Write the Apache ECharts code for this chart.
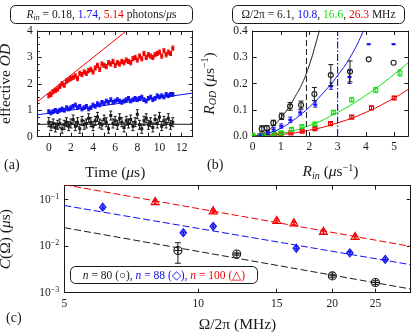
<!DOCTYPE html>
<html>
<head>
<meta charset="utf-8">
<script src="https://cdn.jsdelivr.net/npm/echarts@6/dist/echarts.min.js"></script>
<style>
  html, body { margin: 0; padding: 0; background: #fff; }
  #chart { width: 415px; height: 333px; }
</style>
</head>
<body>
<div id="chart"></div>
<script>
// ---- (a) effective OD vs time ----
const timeA = [0, 0.2, 0.4, 0.6, 0.8, 1.0, 1.2, 1.4, 1.6, 1.8, 2.0, 2.2, 2.4, 2.6, 2.8, 3.0, 3.2, 3.4, 3.6, 3.8,
  4.0, 4.2, 4.4, 4.6, 4.8, 5.0, 5.2, 5.4, 5.6, 5.8, 6.0, 6.2, 6.4, 6.6, 6.8, 7.0, 7.2, 7.4, 7.6, 7.8,
  8.0, 8.2, 8.4, 8.6, 8.8, 9.0, 9.2, 9.4, 9.6, 9.8, 10.0, 10.2, 10.4, 10.6, 10.8, 11.0, 11.2]
const odRed = [1.55, 1.6, 1.7, 1.75, 1.8, 1.9, 2.0, 1.95, 2.1, 2.15, 2.2, 2.25, 2.3, 2.2, 2.4, 2.35,
  2.45, 2.4, 2.5, 2.55, 2.45, 2.6, 2.7, 2.55, 2.75, 2.7, 2.65, 2.8, 2.75, 2.85, 2.7, 2.8, 2.75, 2.85, 2.8, 2.9,
  2.85, 2.8, 2.95, 3.0, 2.9, 3.05, 2.95, 3.15, 3.0, 3.1, 3.05, 3.0, 3.1, 3.15, 3.2, 3.05, 3.25, 3.1, 3.2, 3.15, 3.35]
const odBlue = [0.95, 0.9, 0.95, 1.0, 0.95, 1.0, 1.05, 1.0, 1.1, 1.05, 1.1, 1.15, 1.2, 1.1, 1.15, 1.05,
  1.1, 1.15, 1.05, 1.1, 1.2, 1.15, 1.25, 1.2, 1.3, 1.25, 1.35, 1.3, 1.4, 1.3, 1.35, 1.4, 1.35, 1.3, 1.35, 1.4,
  1.45, 1.35, 1.4, 1.45, 1.4, 1.45, 1.5, 1.4, 1.35, 1.45, 1.5, 1.4, 1.45, 1.55, 1.5, 1.55, 1.5, 1.6, 1.55, 1.6, 1.6]
const odBlack = [0.55, 0.4, 0.5, 0.35, 0.45, 0.5, 0.3, 0.45, 0.55, 0.4, 0.5, 0.65, 0.4, 0.55, 0.3, 0.6,
  0.45, 0.5, 0.7, 0.55, 0.4, 0.6, 0.75, 0.5, 0.45, 0.65, 0.55, 0.3, 0.8, 0.5, 0.6, 0.45, 0.7, 0.55, 0.35, 0.6,
  0.5, 0.65, 0.4, 0.55, 0.85, 0.45, 0.3, 0.6, 0.7, 0.45, 0.55, 0.35, 0.65, 0.5, 0.75, 0.4, 0.6, 0.5, 0.7, 0.45, 0.55]
const errA = { red: 0.08, blue: 0.07, black: 0.17 }
const fitRedA = [[-1, 1.33], [7.0, 4.0]]
const fitBlueA = [[-1, 0.83], [13, 1.65]]
const fitBlackA = [[-1, 0.47], [13, 0.47]]

// ---- (b) R_OD vs R_in ----
const rinBlack = [0.32, 0.5, 0.73, 1.02, 1.32, 1.71, 2.18, 2.76, 3.44, 4.1, 4.98]
const rodBlack = [0.027, 0.03, 0.05, 0.075, 0.113, 0.118, 0.16, 0.232, 0.246, 0.292, 0.279]
const errBlack = [0.012, 0.01, 0.01, 0.012, 0.015, 0.015, 0.025, 0.04, 0.04, 0, 0]
const rinBlue = [0.27, 0.54, 0.74, 1.01, 1.33, 1.68, 2.21, 2.77, 3.42, 4.1, 4.98]
const rodBlue = [0.0, 0.014, 0.025, 0.038, 0.062, 0.09, 0.12, 0.19, 0.225, 0.35, 0.35]
const errBlue = [0.008, 0.008, 0.008, 0.008, 0.01, 0.01, 0.01, 0.012, 0.025, 0, 0]
const rinGreen = [0.0, 0.27, 0.5, 0.75, 1.0, 1.37, 1.74, 2.2, 2.85, 3.5, 4.35, 5.2]
const rodGreen = [0.002, 0.0, 0.004, 0.008, 0.012, 0.025, 0.036, 0.046, 0.09, 0.138, 0.175, 0.24]
const errGreen = [0.004, 0.004, 0.004, 0.004, 0.005, 0.005, 0.005, 0.005, 0.006, 0.008, 0.01, 0.012]
const rinRed = [0.0, 0.25, 0.5, 0.78, 1.0, 1.35, 1.75, 2.2, 2.75, 3.5, 4.2, 5.0]
const rodRed = [0.003, 0.0, 0.002, 0.004, 0.008, 0.012, 0.018, 0.028, 0.047, 0.072, 0.107, 0.145]
const errRed = [0.004, 0.004, 0.004, 0.004, 0.004, 0.004, 0.004, 0.004, 0.004, 0.005, 0.006, 0.006]
const curveBlack = [[0, 0], [0.25, 0.005], [0.5, 0.018], [0.75, 0.04], [1, 0.07], [1.25, 0.105], [1.5, 0.15], [1.75, 0.2], [2, 0.27], [2.25, 0.36], [2.4, 0.42]]
const curveBlue = [[0, 0], [0.5, 0.008], [1, 0.03], [1.5, 0.065], [2, 0.11], [2.5, 0.165], [3, 0.23], [3.5, 0.31], [3.95, 0.41]]
const curveGreen = [[0, 0], [1, 0.01], [2, 0.04], [3, 0.09], [4, 0.155], [5, 0.235], [5.5, 0.28]]
const curveRed = [[0, 0], [1, 0.006], [2, 0.022], [3, 0.05], [4, 0.09], [5, 0.145], [5.5, 0.178]]
const vlineBlack = 1.9
const vlineBlue = 3.0

// ---- (c) C(Omega) vs Omega/2pi ----
const omega80 = [9.0, 12.2, 20.0, 25.0]
const c80 = [0.0081, 0.0068, 0.0023, 0.00166]
const err80 = [0.0038, 0.0004, 0.0002, 0.00015]
const omega88 = [6.1, 9.25, 10.8, 16.6, 21.9, 26.3]
const c88 = [0.069, 0.0195, 0.0268, 0.009, 0.0072, 0.0052]
const err88 = [0.005, 0.0015, 0.002, 0.0007, 0.0005, 0.0004]
const omega100 = [8.0, 10.8, 15.0, 16.4, 19.1, 22.5]
const c100 = [0.092, 0.058, 0.036, 0.032, 0.021, 0.0163]
const err100 = [0.008, 0.005, 0.003, 0.003, 0.002, 0.0015]
const fitOmega = [5, 30]
const fit80 = [0.025, 0.0012]
const fit88 = [0.075, 0.004]
const fit100 = [0.21, 0.0099]

const FONT = 'Liberation Serif'
const RED = '#f00000'
const BLUE = '#1010f0'
const GREEN = '#10e010'
const INK = '#1a1a1a'
const NAME_SIZE = 15.5
const BOX_SIZE = 11.5

const chart = echarts.init(document.getElementById('chart'))

const nameRich = {
  t: { fontFamily: FONT, fontSize: NAME_SIZE, color: INK, lineHeight: 18 },
  i: { fontFamily: FONT, fontSize: NAME_SIZE, fontStyle: 'italic', color: INK, lineHeight: 18 },
  sub: { fontFamily: FONT, fontSize: 10, fontStyle: 'italic', color: INK, lineHeight: 11, verticalAlign: 'bottom' },
  sup: { fontFamily: FONT, fontSize: 10, color: INK, lineHeight: 11, verticalAlign: 'top' }
}

function mkAxis(o) {
  return {
    type: o.type || 'value',
    gridIndex: o.grid,
    position: o.pos,
    min: o.min,
    max: o.max,
    interval: o.interval,
    logBase: 10,
    name: o.name,
    nameLocation: 'middle',
    nameGap: o.gap,
    nameTextStyle: { rich: nameRich },
    axisLine: { show: true, onZero: false, lineStyle: { color: INK, width: 1 } },
    axisTick: { show: true, inside: true, length: 4, customValues: o.ticks, lineStyle: { color: INK } },
    minorTick: { show: !!o.minor, splitNumber: o.minor || 5, length: 2, lineStyle: { color: INK } },
    splitLine: { show: false },
    axisLabel: {
      show: !o.mirror,
      customValues: o.labels,
      formatter: o.fmt,
      color: INK,
      fontFamily: FONT,
      fontSize: 11.5,
      margin: 5,
      rich: o.rich
    }
  }
}

// error bar + marker drawn through the axes
function errSeries(ax, xs, ys, es, color, shape, size, cap, hbar) {
  return {
    type: 'custom',
    xAxisIndex: ax,
    yAxisIndex: ax,
    clip: true,
    z: 3,
    data: xs.map((x, i) => [x, ys[i], es[i]]),
    renderItem(params, api) {
      const x = api.value(0), y = api.value(1), e = api.value(2)
      const c = api.coord([x, y])
      const kids = []
      const ls = { stroke: color, lineWidth: 1 }
      if (e > 0) {
        const t = api.coord([x, y + e])
        const b = api.coord([x, y - e])
        kids.push({ type: 'line', shape: { x1: c[0], y1: t[1], x2: c[0], y2: b[1] }, style: ls })
        kids.push({ type: 'line', shape: { x1: c[0] - cap, y1: t[1], x2: c[0] + cap, y2: t[1] }, style: ls })
        kids.push({ type: 'line', shape: { x1: c[0] - cap, y1: b[1], x2: c[0] + cap, y2: b[1] }, style: ls })
      }
      if (hbar) {
        kids.push({ type: 'line', shape: { x1: c[0] - hbar, y1: c[1], x2: c[0] + hbar, y2: c[1] }, style: ls })
        kids.push({ type: 'line', shape: { x1: c[0], y1: c[1] - hbar, x2: c[0], y2: c[1] + hbar }, style: ls })
      }
      const s = size / 2
      const hollow = { fill: 'none', stroke: color, lineWidth: 1.1 }
      if (shape === 'dot') {
        kids.push({ type: 'rect', shape: { x: c[0] - s, y: c[1] - s, width: size, height: size }, style: { fill: color } })
      } else if (shape === 'circle') {
        kids.push({ type: 'circle', shape: { cx: c[0], cy: c[1], r: s }, style: hollow })
      } else if (shape === 'square') {
        kids.push({ type: 'rect', shape: { x: c[0] - s, y: c[1] - s, width: size, height: size }, style: hollow })
      } else if (shape === 'bar') {
        kids.push({ type: 'rect', shape: { x: c[0] - s, y: c[1] - 1, width: size, height: 2.2 }, style: { fill: color } })
      } else if (shape === 'triangle') {
        kids.push({ type: 'polygon', shape: { points: [[c[0], c[1] - s], [c[0] + s, c[1] + s * 0.8], [c[0] - s, c[1] + s * 0.8]] }, style: hollow })
      } else if (shape === 'diamond') {
        kids.push({ type: 'polygon', shape: { points: [[c[0], c[1] - s], [c[0] + s * 0.8, c[1]], [c[0], c[1] + s], [c[0] - s * 0.8, c[1]]] }, style: hollow })
      }
      return { type: 'group', children: kids }
    }
  }
}

function lineSeries(ax, data, color, opts) {
  opts = opts || {}
  return {
    type: 'line',
    xAxisIndex: ax,
    yAxisIndex: ax,
    data: data,
    symbol: 'none',
    smooth: opts.smooth || false,
    clip: true,
    silent: true,
    z: 2,
    lineStyle: { color: color, width: opts.width || 1, type: opts.dash || 'solid' }
  }
}

const supMinus = (v) => {
  const p = Math.round(Math.log10(v))
  return '{b|10}{s|' + (p < 0 ? '\u2212' + (-p) : p) + '}'
}

const ticksA = [-1, 0, 1, 2, 3, 4, 5, 6, 7, 8, 9, 10, 11, 12, 13]
const labelsA = [0, 2, 4, 6, 8, 10, 12]
const ticksB = [0, 1, 2, 3, 4, 5]
const ticksC = [5, 10, 15, 20, 25]
const ticksCy = [0.001, 0.01, 0.1]

const boxRich = (extra) => Object.assign({
  t: { fontFamily: FONT, fontSize: BOX_SIZE, fill: INK, lineHeight: 14 },
  i: { fontFamily: FONT, fontSize: BOX_SIZE, fontStyle: 'italic', fill: INK, lineHeight: 14 },
  sub: { fontFamily: FONT, fontSize: 8, fontStyle: 'italic', fill: INK, lineHeight: 9, verticalAlign: 'bottom' },
  b: { fontFamily: FONT, fontSize: BOX_SIZE, fill: BLUE, lineHeight: 14 },
  bi: { fontFamily: FONT, fontSize: BOX_SIZE, fontStyle: 'italic', fill: BLUE, lineHeight: 14 },
  g: { fontFamily: FONT, fontSize: BOX_SIZE, fill: GREEN, lineHeight: 14 },
  r: { fontFamily: FONT, fontSize: BOX_SIZE, fill: RED, lineHeight: 14 },
  ri: { fontFamily: FONT, fontSize: BOX_SIZE, fontStyle: 'italic', fill: RED, lineHeight: 14 }
}, extra || {})

const option = {
  animation: false,
  grid: [
    { left: 37.7, top: 31, width: 155, height: 105.7, outerBoundsMode: 'none' },
    { left: 252.7, top: 31, width: 155.6, height: 105, outerBoundsMode: 'none' },
    { left: 64.3, top: 185.7, width: 346.4, height: 107, outerBoundsMode: 'none' }
  ],
  xAxis: [
    mkAxis({ grid: 0, pos: 'bottom', min: -1, max: 13, ticks: ticksA, labels: labelsA,
      name: '{t|Time (}{i|\u03bc}{t|s)}', gap: 27 }),
    mkAxis({ grid: 0, pos: 'top', min: -1, max: 13, ticks: ticksA, mirror: true }),
    mkAxis({ grid: 1, pos: 'bottom', min: 0, max: 5.5, ticks: ticksB, labels: ticksB,
      name: '{i|R}{sub|in}{t| (}{i|\u03bc}{t|s}{sup|\u22121}{t|)}', gap: 27 }),
    mkAxis({ grid: 1, pos: 'top', min: 0, max: 5.5, ticks: ticksB, mirror: true }),
    mkAxis({ grid: 2, pos: 'bottom', type: 'log', min: 5, max: 30, ticks: ticksC, labels: ticksC,
      name: '{t|\u03a9/2\u03c0 (MHz)}', gap: 23 }),
    mkAxis({ grid: 2, pos: 'top', type: 'log', min: 5, max: 30, ticks: ticksC, mirror: true })
  ],
  yAxis: [
    mkAxis({ grid: 0, pos: 'left', min: 0, max: 4, interval: 1, minor: 4,
      name: '{t|effective }{i|OD}', gap: 23 }),
    mkAxis({ grid: 0, pos: 'right', min: 0, max: 4, interval: 1, minor: 4, mirror: true }),
    mkAxis({ grid: 1, pos: 'left', min: 0, max: 0.4, interval: 0.1, fmt: (v) => v.toFixed(1),
      name: '{i|R}{sub|OD}{t| (}{i|\u03bc}{t|s}{sup|\u22121}{t|)}', gap: 34 }),
    mkAxis({ grid: 1, pos: 'right', min: 0, max: 0.4, interval: 0.1, mirror: true }),
    mkAxis({ grid: 2, pos: 'left', type: 'log', min: 0.001, max: 0.2, ticks: ticksCy, labels: ticksCy,
      fmt: supMinus,
      rich: {
        b: { fontFamily: FONT, fontSize: 11.5, color: INK, lineHeight: 14 },
        s: { fontFamily: FONT, fontSize: 8, color: INK, lineHeight: 9, verticalAlign: 'top' }
      },
      name: '{i|C}{t|(\u03a9) (}{i|\u03bc}{t|s)}', gap: 49 }),
    mkAxis({ grid: 2, pos: 'right', type: 'log', min: 0.001, max: 0.2, ticks: ticksCy, mirror: true })
  ],
  series: [
    // (a)
    lineSeries(0, fitRedA, RED),
    lineSeries(0, fitBlueA, BLUE),
    lineSeries(0, fitBlackA, INK),
    errSeries(0, timeA, odBlack, timeA.map(() => errA.black), INK, 'dot', 3, 1.5),
    errSeries(0, timeA, odBlue, timeA.map(() => errA.blue), BLUE, 'dot', 3, 1.5),
    errSeries(0, timeA, odRed, timeA.map(() => errA.red), RED, 'dot', 3, 1.5),
    // (b)
    lineSeries(2, curveBlack, INK, { smooth: true }),
    lineSeries(2, curveBlue, BLUE, { smooth: true }),
    lineSeries(2, curveGreen, GREEN, { smooth: true }),
    lineSeries(2, curveRed, RED, { smooth: true }),
    lineSeries(2, [[vlineBlack, 0], [vlineBlack, 0.4]], INK, { dash: [6, 3] }),
    lineSeries(2, [[vlineBlue, 0], [vlineBlue, 0.4]], BLUE, { dash: [7, 2, 1.5, 2], width: 1.2 }),
    errSeries(2, rinRed, rodRed, errRed, RED, 'square', 4, 2),
    errSeries(2, rinGreen, rodGreen, errGreen, GREEN, 'square', 4, 2),
    errSeries(2, rinBlue, rodBlue, errBlue, BLUE, 'bar', 4, 2),
    errSeries(2, rinBlack, rodBlack, errBlack, INK, 'circle', 5, 2.5),
    // (c)
    lineSeries(4, fitOmega.map((w, i) => [w, fit80[i]]), INK, { dash: [7, 3] }),
    lineSeries(4, fitOmega.map((w, i) => [w, fit88[i]]), BLUE, { dash: [7, 3] }),
    lineSeries(4, fitOmega.map((w, i) => [w, fit100[i]]), RED, { dash: [7, 3] }),
    errSeries(4, omega80, c80, err80, INK, 'circle', 8, 3, 4),
    errSeries(4, omega88, c88, err88, BLUE, 'diamond', 8, 2, 3),
    errSeries(4, omega100, c100, err100, RED, 'triangle', 8, 2, 3)
  ],
  graphic: [
    { type: 'rect', shape: { x: 10.5, y: 5.5, width: 182, height: 18, r: 5 }, style: { fill: '#fff', stroke: INK, lineWidth: 1 } },
    {
      type: 'text', x: 101.5, y: 15,
      style: {
        text: '{i|R}{sub|in}{t| = 0.18, }{b|1.74}{t|, }{r|5.14}{t| photons/}{i|\u03bc}{t|s}',
        align: 'center', verticalAlign: 'middle', textAlign: 'center', textVerticalAlign: 'middle',
        rich: boxRich()
      }
    },
    { type: 'rect', shape: { x: 232.5, y: 5.5, width: 172, height: 18, r: 5 }, style: { fill: '#fff', stroke: INK, lineWidth: 1 } },
    {
      type: 'text', x: 318.5, y: 15,
      style: {
        text: '{t|\u03a9/2\u03c0 = 6.1, }{b|10.8}{t|, }{g|16.6}{t|, }{r|26.3}{t| MHz}',
        align: 'center', verticalAlign: 'middle', textAlign: 'center', textVerticalAlign: 'middle',
        rich: boxRich()
      }
    },
    { type: 'rect', shape: { x: 70.5, y: 266.5, width: 187, height: 17, r: 5 }, style: { fill: '#fff', stroke: INK, lineWidth: 1 }, z: 10 },
    {
      type: 'text', x: 164, y: 275.5, z: 11,
      style: {
        text: '{i|n}{t| = 80 (\u25cb), }{bi|n}{b| = 88 (\u25c7), }{ri|n}{r| = 100 (\u25b3)}',
        align: 'center', verticalAlign: 'middle', textAlign: 'center', textVerticalAlign: 'middle',
        rich: boxRich()
      }
    },
    { type: 'text', x: 4, y: 158, style: { text: '(a)', fontFamily: FONT, fontSize: 14, fill: INK } },
    { type: 'text', x: 207, y: 158, style: { text: '(b)', fontFamily: FONT, fontSize: 14, fill: INK } },
    { type: 'text', x: 6, y: 311, style: { text: '(c)', fontFamily: FONT, fontSize: 14, fill: INK } }
  ]
}

chart.setOption(option)
</script>
</body>
</html>
